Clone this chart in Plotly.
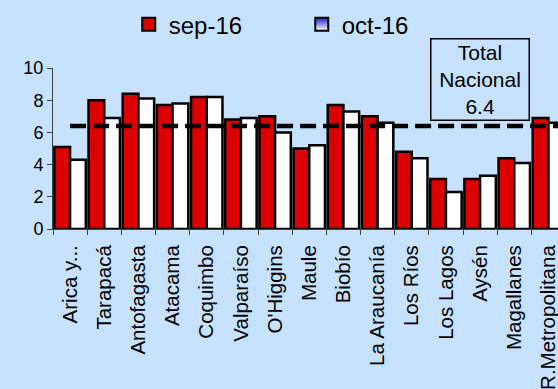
import plotly.graph_objects as go

# Regional rates for two consecutive months
regions = ["Arica y...", "Tarapacá", "Antofagasta", "Atacama", "Coquimbo",
           "Valparaíso", "O'Higgins", "Maule", "Biobío", "La Araucanía",
           "Los Ríos", "Los Lagos", "Aysén", "Magallanes", "R.Metropolitana"]
sep_16 = [5.1, 8.0, 8.4, 7.7, 8.2, 6.8, 7.0, 5.0, 7.7, 7.0, 4.8, 3.1, 3.1, 4.4, 6.9]
oct_16 = [4.3, 6.9, 8.1, 7.8, 8.2, 6.9, 6.0, 5.2, 7.3, 6.6, 4.4, 2.3, 3.3, 4.1, 6.6]
total_nacional = 6.4
series_names = ["sep-16", "oct-16"]

BG = "#C6E2FE"
RED = "#DD0000"
FONT = "Liberation Sans, Arial, sans-serif"

fig = go.Figure()

fig.add_trace(go.Bar(
    x=regions, y=sep_16, name=series_names[0], showlegend=False,
    marker=dict(color=RED, line=dict(color="black", width=2.5)),
))
fig.add_trace(go.Bar(
    x=regions, y=oct_16, name=series_names[1], showlegend=False,
    marker=dict(color="white", line=dict(color="black", width=2.5)),
))

# Legend entries drawn as square markers
fig.add_trace(go.Scatter(
    x=[None], y=[None], mode="markers", name=series_names[0],
    marker=dict(symbol="square", size=13, color=RED,
                line=dict(color="black", width=2)),
))
fig.add_trace(go.Scatter(
    x=[None], y=[None], mode="markers", name=series_names[1],
    marker=dict(symbol="square", size=13, color="#1A1AC8",
                gradient=dict(type="vertical", color="white"),
                line=dict(color="black", width=2)),
))

# National average reference line
fig.add_shape(
    type="line", xref="x", yref="y",
    x0=0, x1=len(regions) + 1, y0=total_nacional, y1=total_nacional,
    line=dict(color="black", width=4.5, dash="16px,7px"),
    layer="above",
)

fig.add_annotation(
    x=12, y=9.3, xref="x", yref="y",
    text=f"Total<br>Nacional<br>{total_nacional}",
    showarrow=False,
    font=dict(family=FONT, size=21, color="black"),
    bordercolor="black", borderwidth=1.5, borderpad=1,
    width=95, height=78, bgcolor=BG,
)

fig.update_layout(
    width=558, height=389,
    margin=dict(l=53, r=0, t=68, b=160),
    paper_bgcolor=BG, plot_bgcolor=BG,
    font=dict(family=FONT, color="black"),
    barmode="group", bargap=0.08, bargroupgap=0,
    legend=dict(
        orientation="h", x=0.15, xanchor="left", y=1.27, yanchor="middle",
        font=dict(family=FONT, size=24, color="black"),
        bgcolor="rgba(0,0,0,0)", entrywidth=128,
    ),
    showlegend=True,
)

fig.update_xaxes(
    range=[-0.5, 14.28], showgrid=False, zeroline=False,
    showline=True, linecolor="#404040", linewidth=1,
    ticks="outside", tickson="boundaries", ticklen=5, tickcolor="#404040",
    tickangle=-90, ticklabelstandoff=7,
    tickfont=dict(family=FONT, size=20.5, color="black"),
)
fig.update_yaxes(
    range=[0, 10], tickvals=[0, 2, 4, 6, 8, 10], showgrid=False, zeroline=False,
    showline=True, linecolor="#404040", linewidth=1,
    ticks="outside", ticklen=5, tickcolor="#404040",
    tickfont=dict(family=FONT, size=18, color="black"),
)

fig.write_html("out.html")
